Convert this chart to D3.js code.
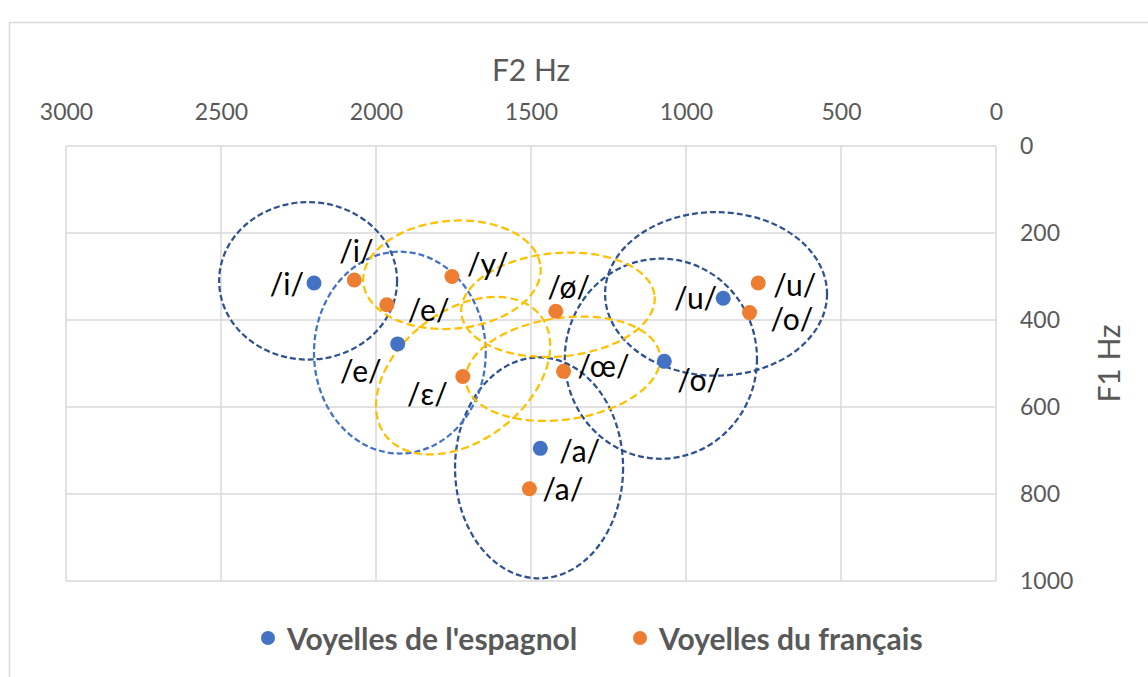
<!DOCTYPE html>
<html>
<head>
<meta charset="utf-8">
<script src="https://cdn.jsdelivr.net/npm/d3@7"></script>
<style>
  body { margin: 0; background: #fff; }
  svg { display: block; font-family: Lato, "Open Sans", sans-serif; }
</style>
</head>
<body>
<svg id="chart" width="1148" height="677"></svg>
<script>
// values (F2 and F1 in Hz)
var esNames = ["/i/", "/e/", "/a/", "/o/", "/u/"];
var esF2 = [2200, 1930, 1470, 1070, 880];
var esF1 = [315, 455, 695, 495, 350];

var frNames = ["/i/", "/e/", "/ɛ/", "/y/", "/ø/", "/œ/", "/a/", "/o/", "/u/"];
var frF2 = [2070, 1965, 1720, 1755, 1420, 1395, 1505, 795, 767];
var frF1 = [308, 365, 530, 300, 380, 518, 788, 383, 315];

// dispersion ellipses: centre and half-widths in Hz, group
var ellGroup = ["es", "es", "es", "es", "esE", "fr", "fr", "fr", "fr"];
var ellF2 = [2219, 1474, 1081, 903, 1923, 1755, 1413, 1397, 1719];
var ellF1 = [310, 740, 489, 340, 475, 296, 365, 512, 528];
var ellRF2 = [287, 271, 310, 358, 277, 287, 313, 316, 316];
var ellRF1 = [181, 254, 230, 188, 232, 124, 119, 117, 149];
var ellTilt = [0, 0, 0, 0, 0, -5, -5, -8, -37.6];

var xTicks = [3000, 2500, 2000, 1500, 1000, 500, 0];
var yTicks = [0, 200, 400, 600, 800, 1000];

var seriesNames = ["Voyelles de l'espagnol", "Voyelles du français"];

// label placement (pixels from the point)
var esLabelPos = [
    {dx: -10, dy: 0, a: "end"}, {dx: -16, dy: 26, a: "end"}, {dx: 19, dy: 2, a: "start"},
    {dx: 13, dy: 18, a: "start"}, {dx: -6, dy: -1, a: "end"}
];
var frLabelPos = [
    {dx: 2, dy: -30, a: "middle"}, {dx: 21, dy: 4, a: "start"}, {dx: -15, dy: 16, a: "end"},
    {dx: 15, dy: -14, a: "start"}, {dx: 13, dy: -25, a: "middle"}, {dx: 14, dy: -6, a: "start"},
    {dx: 13, dy: -1, a: "start"}, {dx: 21, dy: 5, a: "start"}, {dx: 15, dy: 1, a: "start"}
];

var ellColor = {es: "#2F528F", esE: "#4472C4", fr: "#FFC000"};
var ellDash = {es: "6,3", esE: "6,3", fr: "8,4"};
var dotColor = ["#4472C4", "#ED7D31"];

var svg = d3.select("#chart"),
    margin = {top: 146, right: 152, bottom: 96, left: 66},
    width = +svg.attr("width") - margin.left - margin.right,
    height = +svg.attr("height") - margin.top - margin.bottom;

// chart area border
svg.append("rect")
    .attr("x", 9.5).attr("y", 22.5)
    .attr("width", 1200).attr("height", 700)
    .attr("fill", "none")
    .attr("stroke", "#D9D9D9")
    .attr("stroke-width", 1.5);

var g = svg.append("g").attr("transform", "translate(" + margin.left + "," + margin.top + ")");

var x = d3.scaleLinear().domain([3000, 0]).range([0, width]);
var y = d3.scaleLinear().domain([0, 1000]).range([0, height]);

// grid
g.append("g")
    .selectAll("line")
    .data(xTicks)
    .enter().append("line")
    .attr("x1", function (d) { return x(d); })
    .attr("x2", function (d) { return x(d); })
    .attr("y1", 0).attr("y2", height)
    .attr("stroke", "#D9D9D9").attr("stroke-width", 1.5);

g.append("g")
    .selectAll("line")
    .data(yTicks)
    .enter().append("line")
    .attr("x1", 0).attr("x2", width)
    .attr("y1", function (d) { return y(d); })
    .attr("y2", function (d) { return y(d); })
    .attr("stroke", "#D9D9D9").attr("stroke-width", 1.5);

// top axis
var xAxis = g.append("g")
    .call(d3.axisTop(x).tickValues(xTicks).tickSize(0).tickPadding(33).tickFormat(d3.format("d")));
xAxis.select(".domain").remove();
xAxis.selectAll("text")
    .attr("dy", "0.32em")
    .attr("fill", "#595959")
    .style("font-size", "23px")
    .style("font-family", "Lato");

// right axis
var yAxis = g.append("g")
    .attr("transform", "translate(" + width + ",0)")
    .call(d3.axisRight(y).tickValues(yTicks).tickSize(0).tickPadding(24).tickFormat(d3.format("d")));
yAxis.select(".domain").remove();
yAxis.selectAll("text")
    .attr("fill", "#595959")
    .style("font-size", "23px")
    .style("font-family", "Lato");

svg.append("text")
    .attr("x", margin.left + width / 2)
    .attr("y", 69)
    .attr("text-anchor", "middle")
    .attr("dominant-baseline", "central")
    .attr("fill", "#595959")
    .style("font-size", "30px")
    .text("F2 Hz");

svg.append("text")
    .attr("transform", "translate(1108," + (margin.top + height / 2) + ") rotate(-90)")
    .attr("text-anchor", "middle")
    .attr("dominant-baseline", "central")
    .attr("fill", "#595959")
    .style("font-size", "30px")
    .text("F1 Hz");

// ellipses
var ells = ellF2.map(function (d, i) {
    return {f2: d, f1: ellF1[i], rf2: ellRF2[i], rf1: ellRF1[i], tilt: ellTilt[i], grp: ellGroup[i]};
});

g.append("g")
    .selectAll("ellipse")
    .data(ells)
    .enter().append("ellipse")
    .attr("transform", function (d) {
        return "translate(" + x(d.f2) + "," + y(d.f1) + ") rotate(" + d.tilt + ")";
    })
    .attr("rx", function (d) { return x(3000 - d.rf2) - x(3000); })
    .attr("ry", function (d) { return y(d.rf1) - y(0); })
    .attr("fill", "none")
    .attr("stroke", function (d) { return ellColor[d.grp]; })
    .attr("stroke-width", 2.25)
    .attr("stroke-dasharray", function (d) { return ellDash[d.grp]; });

// points and labels
var series = [
    {names: esNames, f2: esF2, f1: esF1, pos: esLabelPos},
    {names: frNames, f2: frF2, f1: frF1, pos: frLabelPos}
];

series.forEach(function (s, k) {
    var pts = s.names.map(function (n, i) {
        return {name: n, f2: s.f2[i], f1: s.f1[i], pos: s.pos[i]};
    });

    g.append("g")
        .selectAll("circle")
        .data(pts)
        .enter().append("circle")
        .attr("cx", function (d) { return x(d.f2); })
        .attr("cy", function (d) { return y(d.f1); })
        .attr("r", 7.5)
        .attr("fill", dotColor[k]);

    g.append("g")
        .selectAll("text")
        .data(pts)
        .enter().append("text")
        .attr("x", function (d) { return x(d.f2) + d.pos.dx; })
        .attr("y", function (d) { return y(d.f1) + d.pos.dy; })
        .attr("text-anchor", function (d) { return d.pos.a; })
        .attr("dominant-baseline", "central")
        .attr("fill", "#000")
        .style("font-size", "30px")
        .text(function (d) { return d.name; });
});

// legend
var legendX = [268, 640];
var legend = svg.append("g");
seriesNames.forEach(function (name, k) {
    legend.append("circle")
        .attr("cx", legendX[k]).attr("cy", 638)
        .attr("r", 7)
        .attr("fill", dotColor[k]);
    legend.append("text")
        .attr("x", legendX[k] + 19).attr("y", 638)
        .attr("dominant-baseline", "central")
        .attr("fill", "#595959")
        .style("font-size", "30px")
        .style("font-weight", "bold")
        .text(name);
});
</script>
</body>
</html>
